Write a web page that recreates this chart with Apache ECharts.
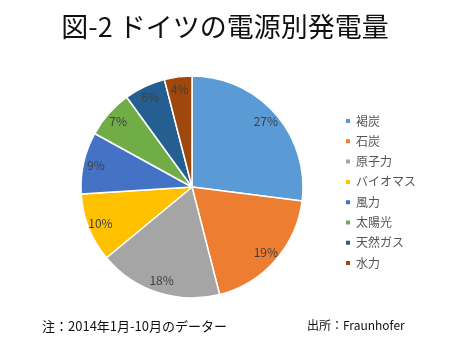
<!DOCTYPE html>
<html>
<head>
<meta charset="utf-8">
<script src="https://cdn.jsdelivr.net/npm/echarts@6/dist/echarts.min.js"></script>
<style>
  html, body { margin: 0; padding: 0; background: #fff; }
  #chart { width: 450px; height: 342px; }
</style>
</head>
<body>
<div id="chart"></div>
<script>
// Power generation by source in Germany (share, %)
const sources = ['褐炭', '石炭', '原子力', 'バイオマス', '風力', '太陽光', '天然ガス', '水力'];
const shares = [27, 19, 18, 10, 9, 7, 6, 4];
const colors = ['#5B9BD5', '#ED7D31', '#A5A5A5', '#FFC000', '#4472C4', '#70AD47', '#255E91', '#9E480E'];

const titleText = '図-2 ドイツの電源別発電量';
const noteText = '注：2014年1月-10月のデーター';
const sourceText = '出所：Fraunhofer';

const FONT = '"Noto Sans CJK JP", "Noto Sans", sans-serif';
const center = [192, 187];
const R = 111;

const pieData = sources.map((name, i) => ({ name: name, value: shares[i] }));

const chart = echarts.init(document.getElementById('chart'), null, { renderer: 'canvas' });
chart.setOption({
  animation: false,
  color: colors,
  title: [
    {
      text: titleText, left: 'center', top: 8,
      textStyle: { fontFamily: FONT, fontSize: 27, fontWeight: 'normal', color: '#111' }
    },
    {
      text: noteText, left: 37, top: 315,
      textStyle: { fontFamily: FONT, fontSize: 13, fontWeight: 'normal', color: '#111' }
    },
    {
      text: sourceText, left: 302, top: 314,
      textStyle: { fontFamily: FONT, fontSize: 12, fontWeight: 'normal', color: '#111' }
    }
  ],
  legend: {
    orient: 'vertical', left: 339, top: 110,
    data: sources,
    icon: 'rect', itemWidth: 6, itemHeight: 6, itemGap: 8.3,
    textStyle: { fontFamily: FONT, fontSize: 12, color: '#555', lineHeight: 12 }
  },
  series: [
    {
      type: 'pie', center: center, radius: [0, R],
      startAngle: 90, clockwise: true,
      data: pieData,
      label: { show: false }, labelLine: { show: false },
      itemStyle: { borderColor: '#fff', borderWidth: 1.5 },
      emphasis: { disabled: true }
    },
    {
      // transparent ring that carries the percentage labels near the rim
      type: 'pie', center: center, radius: [R * 0.72, R],
      startAngle: 90, clockwise: true, silent: true,
      data: pieData,
      itemStyle: { color: 'transparent', borderWidth: 0 },
      label: {
        show: true, position: 'inside',
        formatter: p => p.value + '%',
        fontFamily: FONT, fontSize: 12, color: '#404040'
      },
      labelLine: { show: false }
    }
  ]
});
</script>
</body>
</html>
